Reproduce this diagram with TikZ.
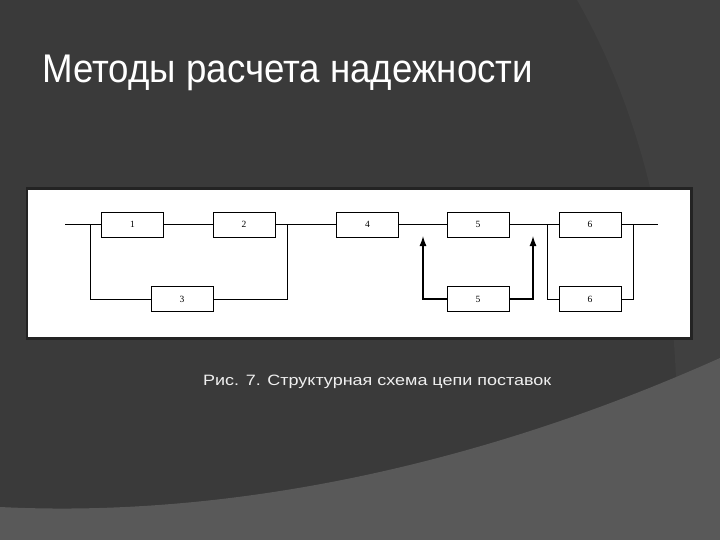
\documentclass[tikz,border=0pt]{standalone}
\usepackage{fontspec}
\setmainfont{Liberation Serif}
\newfontfamily\slidefont{Liberation Sans}
\usetikzlibrary{arrows.meta}
\definecolor{slidebg}{HTML}{3A3A3A}
\definecolor{slidemid}{HTML}{404040}
\definecolor{slidelow}{HTML}{595959}
\begin{document}
\begin{tikzpicture}[x=1pt,y=-1pt,
  blk/.style={draw,line width=0.9pt,minimum width=62pt,minimum height=25pt,inner sep=0pt,
    font=\fontsize{9.5}{9.5}\selectfont},
  ln/.style={line width=0.9pt},
  up/.style={line width=1.3pt,-{Latex[length=10pt,width=7pt]}}]
\useasboundingbox (0,0) rectangle (720,540);
% slide background
\fill[slidebg] (0,0) rectangle (720,540);
\fill[slidemid] (577,0) .. controls (640,110) and (670,240) .. (676,378) -- (720,358) -- (720,0) -- cycle;
\fill[slidelow] (0,507) .. controls (220,518) and (470,470) .. (720,358) -- (720,540) -- (0,540) -- cycle;
\fill[slidebg!60!black] (26,187) rectangle (693,340);
\fill[white] (28,190) rectangle (690,337);
% title and caption
\node[anchor=base west,inner sep=0pt,text=white,font=\slidefont\fontsize{40}{40}\selectfont] (title) at (42,83)
  {\resizebox{491pt}{\height}{Методы расчета надежности}};
\node[anchor=base west,inner sep=0pt,text=white!94!black,font=\slidefont\fontsize{15}{15}\selectfont] (caption) at (203,385)
  {\resizebox{348pt}{\height}{Рис. 7. Структурная схема цепи поставок}};
% blocks
\node[blk] (b1) at (132.5,224.5) {1};
\node[blk] (b2) at (244,224.5) {2};
\node[blk] (b3) at (182,299) {3};
\node[blk] (b4) at (367.5,224.5) {4};
\node[blk] (b5) at (478,224.5) {5};
\node[blk] (c5) at (478,299) {5};
\node[blk] (b6) at (590,224.5) {6};
\node[blk] (c6) at (590,299) {6};
% junctions
\coordinate (in) at (65,224.5);
\coordinate (out) at (658,224.5);
\coordinate (ja) at (90,224.5);
\coordinate (jb) at (287,224.5);
\coordinate (jc) at (547,224.5);
\coordinate (jd) at (633,224.5);
\coordinate (ta) at (423,236);
\coordinate (tb) at (533,236);
% connections
\draw[ln] (in) -- (b1.west);
\draw[ln] (b1.east) -- (b2.west);
\draw[ln] (b2.east) -- (b4.west);
\draw[ln] (b4.east) -- (b5.west);
\draw[ln] (b5.east) -- (b6.west);
\draw[ln] (b6.east) -- (out);
\draw[ln] (ja) |- (b3.west);
\draw[ln] (jb) |- (b3.east);
\draw[up] (c5.west) -| (ta);
\draw[up] (c5.east) -| (tb);
\draw[ln] (jc) |- (c6.west);
\draw[ln] (jd) |- (c6.east);
\end{tikzpicture}
\end{document}
